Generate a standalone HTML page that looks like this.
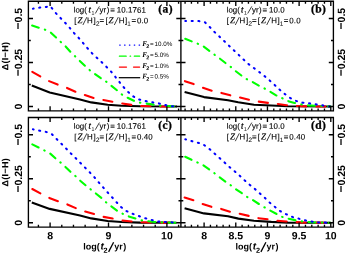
<!DOCTYPE html>
<html><head><meta charset="utf-8"><title>chart</title>
<style>html,body{margin:0;padding:0;background:#fff;overflow:hidden}svg{display:block}text{font-family:"Liberation Sans",sans-serif;fill:#000}.b{font-weight:bold;font-size:10.5px}.s{font-size:7.9px;stroke:#000;stroke-width:0.12px}.b9{font-weight:bold;font-size:9px}.sub{font-size:6.3px}svg{will-change:transform}text{text-rendering:geometricPrecision}.l{font-size:6.3px}text.tg{font-family:"Liberation Serif",serif;font-weight:bold;font-size:11.5px;stroke:#000;stroke-width:0.3px}.it{font-family:"Liberation Serif",serif;font-style:italic}</style>
</head><body>
<svg width="346" height="254" viewBox="0 0 346 254">
<rect width="346" height="254" fill="#fff"/>
<path d="M31.8,85.6 L49.7,92.4 L80.0,99.5 L91.3,102.4 L107.7,104.7 L121.6,105.7 L140.0,106.3 L177.0,106.5" fill="none" stroke-linejoin="round" stroke="#000" stroke-width="2.1" stroke-linecap="butt"/>
<path d="M32.3,71.8 L41.0,76.8 L48.8,81.0 L58.5,84.9 L66.5,87.7 L76.2,92.1 L84.3,94.9 L94.2,98.1 L102.2,99.8 L112.6,101.7 L121.2,103.3 L131.7,104.9 L140.6,106.0 L151.0,106.3 L158.8,106.5 L177.0,106.5" fill="none" stroke-linejoin="round" stroke="#ff0000" stroke-width="2.1" stroke-linecap="round" stroke-dasharray="9.2 10"/>
<path d="M32.1,25.6 L40.1,28.2 L45.3,29.8 L50.2,32.0 L56.8,38.1 L60.9,42.1 L65.3,46.1 L70.8,52.2 L75.1,56.3 L79.8,60.9 L85.2,66.0 L89.9,70.3 L94.7,73.8 L101.0,78.2 L106.3,81.7 L111.2,85.6 L117.3,90.5 L121.6,94.3 L126.4,97.2 L133.3,100.5 L137.2,102.4 L139.7,102.6 L144.9,103.4 L153.6,104.6 L159.7,105.6 L165.7,106.0 L177.0,106.5" fill="none" stroke-linejoin="round" stroke="#00ff00" stroke-width="2.1" stroke-linecap="round" stroke-dasharray="7 6.35 0.5 6.35"/>
<path d="M32.9,8.7 L39.6,7.6 L46.5,6.9 L50.1,6.1 L51.4,7.6 L55.7,13.0 L60.4,17.9 L64.9,22.5 L69.6,27.7 L73.9,32.9 L78.6,37.8 L82.9,42.8 L87.3,48.0 L91.8,53.0 L96.8,57.7 L101.7,62.2 L106.5,66.9 L111.2,71.7 L115.5,77.1 L119.5,82.1 L123.7,87.3 L128.2,92.0 L133.4,96.5 L139.0,99.5 L145.5,101.1 L152.2,102.2 L158.8,103.4 L165.2,105.1 L171.8,106.3 L177.0,106.5" fill="none" stroke-linejoin="round" stroke="#0000ff" stroke-width="2.05" stroke-linecap="round" stroke-dasharray="1.1 5.6" stroke-dashoffset="0.35"/>
<path d="M184.6,91.9 L204.0,97.1 L228.0,100.3 L238.2,102.3 L254.0,104.7 L271.3,105.5 L288.0,106.3 L330.5,106.5" fill="none" stroke-linejoin="round" stroke="#000" stroke-width="2.1" stroke-linecap="butt"/>
<path d="M184.9,81.2 L194.5,84.4 L202.3,87.5 L212.7,91.0 L220.5,92.7 L230.8,95.5 L239.3,97.4 L249.1,99.8 L257.8,101.5 L268.2,102.9 L276.9,103.8 L286.6,105.2 L295.0,105.9 L305.7,106.4 L330.5,106.5" fill="none" stroke-linejoin="round" stroke="#ff0000" stroke-width="2.1" stroke-linecap="round" stroke-dasharray="9.2 10"/>
<path d="M185.2,38.8 L192.7,41.8 L198.4,44.0 L203.4,46.4 L210.1,51.5 L214.7,54.9 L219.6,58.4 L226.2,63.6 L230.8,66.9 L235.0,70.6 L241.5,75.6 L246.2,78.9 L251.4,81.3 L258.8,85.6 L264.0,88.2 L269.6,91.3 L275.7,95.1 L281.6,97.9 L286.7,100.7 L294.5,102.9 L300.5,104.3 L305.7,105.2 L314.7,105.7 L321.3,106.0 L330.5,106.5" fill="none" stroke-linejoin="round" stroke="#00ff00" stroke-width="2.1" stroke-linecap="round" stroke-dasharray="7 6.35 0.5 6.35"/>
<path d="M185.3,20.9 L192.2,20.9 L199.1,21.1 L204.9,22.3 L209.7,27.0 L214.4,31.9 L219.4,36.5 L224.1,41.0 L229.0,45.7 L233.8,50.3 L238.7,54.9 L243.6,59.6 L248.5,64.1 L253.7,67.9 L259.2,72.0 L264.5,76.1 L269.6,80.4 L274.4,84.7 L279.2,89.3 L284.4,93.7 L289.8,97.7 L295.3,100.7 L301.9,102.6 L308.8,103.3 L315.3,104.3 L322.2,105.2 L328.3,106.4 L330.5,106.5" fill="none" stroke-linejoin="round" stroke="#0000ff" stroke-width="2.05" stroke-linecap="round" stroke-dasharray="1.1 5.6" stroke-dashoffset="0.35"/>
<path d="M31.8,202.5 L49.7,208.9 L80.0,215.5 L91.3,218.4 L107.7,221.0 L121.6,222.0 L140.0,222.6 L176.5,222.7" fill="none" stroke-linejoin="round" stroke="#000" stroke-width="2.1" stroke-linecap="butt"/>
<path d="M32.3,189.0 L41.0,193.7 L48.8,197.7 L58.8,201.5 L66.5,204.1 L76.5,208.4 L84.3,211.3 L94.7,214.2 L102.5,216.7 L112.9,218.6 L121.2,220.3 L132.0,221.5 L140.6,222.2 L151.0,222.5 L176.5,222.7" fill="none" stroke-linejoin="round" stroke="#ff0000" stroke-width="2.1" stroke-linecap="round" stroke-dasharray="9.2 10"/>
<path d="M32.3,144.4 L39.8,148.1 L44.9,150.7 L49.7,153.1 L55.9,158.8 L60.9,162.8 L65.3,166.8 L71.0,172.3 L75.7,176.3 L80.0,180.5 L86.1,185.7 L90.7,189.4 L95.6,193.3 L101.7,198.1 L106.3,202.5 L111.2,206.3 L117.3,210.8 L122.5,213.7 L127.7,216.1 L135.4,218.5 L141.5,220.3 L146.7,221.1 L154.5,222.0 L160.5,222.3 L165.7,222.6 L176.5,222.7" fill="none" stroke-linejoin="round" stroke="#00ff00" stroke-width="2.1" stroke-linecap="round" stroke-dasharray="7 6.35 0.5 6.35"/>
<path d="M32.9,129.3 L39.6,130.7 L46.2,131.9 L51.9,134.2 L56.6,139.1 L61.3,143.7 L66.1,148.5 L70.8,153.4 L75.5,158.0 L80.2,162.8 L85.0,167.6 L89.9,172.5 L94.4,177.3 L98.7,182.3 L103.1,187.3 L107.7,192.5 L112.1,197.3 L116.4,202.1 L121.1,207.1 L126.4,211.1 L132.4,213.7 L138.7,216.0 L144.9,218.2 L151.3,219.9 L157.9,221.5 L164.5,222.0 L170.9,222.3 L176.5,222.7" fill="none" stroke-linejoin="round" stroke="#0000ff" stroke-width="2.05" stroke-linecap="round" stroke-dasharray="1.1 5.6" stroke-dashoffset="0.35"/>
<path d="M184.6,208.2 L204.0,213.4 L228.0,216.3 L238.4,218.6 L254.0,220.7 L271.3,221.9 L288.0,222.6 L330.5,222.7" fill="none" stroke-linejoin="round" stroke="#000" stroke-width="2.1" stroke-linecap="butt"/>
<path d="M184.6,197.5 L194.5,200.6 L202.3,203.9 L212.7,207.3 L220.5,208.7 L230.8,211.9 L239.3,213.7 L249.1,216.0 L257.8,218.1 L268.2,219.3 L276.9,220.7 L286.9,221.5 L295.0,222.1 L305.7,222.6 L330.5,222.7" fill="none" stroke-linejoin="round" stroke="#ff0000" stroke-width="2.1" stroke-linecap="round" stroke-dasharray="9.2 10"/>
<path d="M185.2,156.8 L192.1,160.1 L197.7,162.6 L203.1,165.2 L209.5,169.7 L214.4,173.2 L219.2,177.0 L225.7,181.8 L230.3,185.0 L235.1,188.6 L241.9,193.2 L246.7,196.7 L251.9,199.5 L259.2,204.2 L264.4,207.3 L269.6,210.3 L276.2,213.7 L281.6,216.7 L286.5,218.4 L295.0,220.1 L300.5,221.2 L305.7,221.9 L314.7,222.4 L321.3,222.6 L330.5,222.7" fill="none" stroke-linejoin="round" stroke="#00ff00" stroke-width="2.1" stroke-linecap="round" stroke-dasharray="7 6.35 0.5 6.35"/>
<path d="M185.3,139.2 L192.2,141.3 L198.8,143.0 L204.5,145.3 L209.7,149.2 L214.7,153.7 L219.6,158.1 L224.8,162.7 L229.6,167.1 L234.8,171.4 L239.8,175.8 L244.8,180.5 L249.7,184.8 L254.9,189.0 L259.9,193.5 L264.7,197.8 L269.6,202.5 L274.8,206.8 L280.0,211.0 L285.7,214.0 L291.9,216.8 L298.5,218.6 L304.9,220.3 L311.4,221.5 L318.2,222.4 L324.8,222.6 L330.5,222.7" fill="none" stroke-linejoin="round" stroke="#0000ff" stroke-width="2.05" stroke-linecap="round" stroke-dasharray="1.1 5.6" stroke-dashoffset="0.35"/>
<path d="M28.40,1.30L333.40,1.30M28.40,110.90L333.40,110.90M28.40,0.62L28.40,111.58M180.90,0.62L180.90,111.58M333.40,0.62L333.40,111.58M38.42,1.30L38.42,3.70M38.42,110.90L38.42,108.50M50.10,1.30L50.10,5.90M50.10,110.90L50.10,106.30M61.78,1.30L61.78,3.70M61.78,110.90L61.78,108.50M73.46,1.30L73.46,3.70M73.46,110.90L73.46,108.50M85.14,1.30L85.14,3.70M85.14,110.90L85.14,108.50M96.82,1.30L96.82,3.70M96.82,110.90L96.82,108.50M108.50,1.30L108.50,5.90M108.50,110.90L108.50,106.30M120.18,1.30L120.18,3.70M120.18,110.90L120.18,108.50M131.86,1.30L131.86,3.70M131.86,110.90L131.86,108.50M143.54,1.30L143.54,3.70M143.54,110.90L143.54,108.50M155.22,1.30L155.22,3.70M155.22,110.90L155.22,108.50M166.90,1.30L166.90,5.90M166.90,110.90L166.90,106.30M178.58,1.30L178.58,3.70M178.58,110.90L178.58,108.50M185.09,1.30L185.09,3.70M185.09,110.90L185.09,108.50M191.43,1.30L191.43,3.70M191.43,110.90L191.43,108.50M197.77,1.30L197.77,3.70M197.77,110.90L197.77,108.50M204.10,1.30L204.10,5.90M204.10,110.90L204.10,106.30M210.43,1.30L210.43,3.70M210.43,110.90L210.43,108.50M216.77,1.30L216.77,3.70M216.77,110.90L216.77,108.50M223.11,1.30L223.11,3.70M223.11,110.90L223.11,108.50M229.44,1.30L229.44,3.70M229.44,110.90L229.44,108.50M235.78,1.30L235.78,5.90M235.78,110.90L235.78,106.30M242.11,1.30L242.11,3.70M242.11,110.90L242.11,108.50M248.44,1.30L248.44,3.70M248.44,110.90L248.44,108.50M254.78,1.30L254.78,3.70M254.78,110.90L254.78,108.50M261.12,1.30L261.12,3.70M261.12,110.90L261.12,108.50M267.45,1.30L267.45,5.90M267.45,110.90L267.45,106.30M273.78,1.30L273.78,3.70M273.78,110.90L273.78,108.50M280.12,1.30L280.12,3.70M280.12,110.90L280.12,108.50M286.46,1.30L286.46,3.70M286.46,110.90L286.46,108.50M292.79,1.30L292.79,3.70M292.79,110.90L292.79,108.50M299.12,1.30L299.12,5.90M299.12,110.90L299.12,106.30M305.46,1.30L305.46,3.70M305.46,110.90L305.46,108.50M311.79,1.30L311.79,3.70M311.79,110.90L311.79,108.50M318.13,1.30L318.13,3.70M318.13,110.90L318.13,108.50M324.47,1.30L324.47,3.70M324.47,110.90L324.47,108.50M330.80,1.30L330.80,5.90M330.80,110.90L330.80,106.30M28.40,106.50L33.00,106.50M176.30,106.50L185.50,106.50M328.80,106.50L333.40,106.50M28.40,84.50L30.80,84.50M178.50,84.50L183.30,84.50M331.00,84.50L333.40,84.50M28.40,62.50L33.00,62.50M176.30,62.50L185.50,62.50M328.80,62.50L333.40,62.50M28.40,40.50L30.80,40.50M178.50,40.50L183.30,40.50M331.00,40.50L333.40,40.50M28.40,18.50L33.00,18.50M176.30,18.50L185.50,18.50M328.80,18.50L333.40,18.50M28.40,117.50L333.40,117.50M28.40,227.10L333.40,227.10M28.40,116.83L28.40,227.78M180.90,116.83L180.90,227.78M333.40,116.83L333.40,227.78M38.42,117.50L38.42,119.90M38.42,227.10L38.42,224.70M50.10,117.50L50.10,122.10M50.10,227.10L50.10,222.50M61.78,117.50L61.78,119.90M61.78,227.10L61.78,224.70M73.46,117.50L73.46,119.90M73.46,227.10L73.46,224.70M85.14,117.50L85.14,119.90M85.14,227.10L85.14,224.70M96.82,117.50L96.82,119.90M96.82,227.10L96.82,224.70M108.50,117.50L108.50,122.10M108.50,227.10L108.50,222.50M120.18,117.50L120.18,119.90M120.18,227.10L120.18,224.70M131.86,117.50L131.86,119.90M131.86,227.10L131.86,224.70M143.54,117.50L143.54,119.90M143.54,227.10L143.54,224.70M155.22,117.50L155.22,119.90M155.22,227.10L155.22,224.70M166.90,117.50L166.90,122.10M166.90,227.10L166.90,222.50M178.58,117.50L178.58,119.90M178.58,227.10L178.58,224.70M185.09,117.50L185.09,119.90M185.09,227.10L185.09,224.70M191.43,117.50L191.43,119.90M191.43,227.10L191.43,224.70M197.77,117.50L197.77,119.90M197.77,227.10L197.77,224.70M204.10,117.50L204.10,122.10M204.10,227.10L204.10,222.50M210.43,117.50L210.43,119.90M210.43,227.10L210.43,224.70M216.77,117.50L216.77,119.90M216.77,227.10L216.77,224.70M223.11,117.50L223.11,119.90M223.11,227.10L223.11,224.70M229.44,117.50L229.44,119.90M229.44,227.10L229.44,224.70M235.78,117.50L235.78,122.10M235.78,227.10L235.78,222.50M242.11,117.50L242.11,119.90M242.11,227.10L242.11,224.70M248.44,117.50L248.44,119.90M248.44,227.10L248.44,224.70M254.78,117.50L254.78,119.90M254.78,227.10L254.78,224.70M261.12,117.50L261.12,119.90M261.12,227.10L261.12,224.70M267.45,117.50L267.45,122.10M267.45,227.10L267.45,222.50M273.78,117.50L273.78,119.90M273.78,227.10L273.78,224.70M280.12,117.50L280.12,119.90M280.12,227.10L280.12,224.70M286.46,117.50L286.46,119.90M286.46,227.10L286.46,224.70M292.79,117.50L292.79,119.90M292.79,227.10L292.79,224.70M299.12,117.50L299.12,122.10M299.12,227.10L299.12,222.50M305.46,117.50L305.46,119.90M305.46,227.10L305.46,224.70M311.79,117.50L311.79,119.90M311.79,227.10L311.79,224.70M318.13,117.50L318.13,119.90M318.13,227.10L318.13,224.70M324.47,117.50L324.47,119.90M324.47,227.10L324.47,224.70M330.80,117.50L330.80,122.10M330.80,227.10L330.80,222.50M28.40,222.70L33.00,222.70M176.30,222.70L185.50,222.70M328.80,222.70L333.40,222.70M28.40,200.70L30.80,200.70M178.50,200.70L183.30,200.70M331.00,200.70L333.40,200.70M28.40,178.70L33.00,178.70M176.30,178.70L185.50,178.70M328.80,178.70L333.40,178.70M28.40,156.70L30.80,156.70M178.50,156.70L183.30,156.70M331.00,156.70L333.40,156.70M28.40,134.70L33.00,134.70M176.30,134.70L185.50,134.70M328.80,134.70L333.40,134.70" stroke="#000" stroke-width="1.35" fill="none"/>
<text class="b" transform="rotate(0.03 50.10 239.20)" x="50.10" y="239.20" text-anchor="middle">8</text>
<text class="b" transform="rotate(0.03 108.50 239.20)" x="108.50" y="239.20" text-anchor="middle">9</text>
<text class="b" transform="rotate(0.03 166.90 239.20)" x="166.90" y="239.20" text-anchor="middle">10</text>
<text class="b" transform="rotate(0.03 204.10 239.20)" x="204.10" y="239.20" text-anchor="middle">8</text>
<text class="b" transform="rotate(0.03 235.78 239.20)" x="235.78" y="239.20" text-anchor="middle">8.5</text>
<text class="b" transform="rotate(0.03 267.45 239.20)" x="267.45" y="239.20" text-anchor="middle">9</text>
<text class="b" transform="rotate(0.03 299.12 239.20)" x="299.12" y="239.20" text-anchor="middle">9.5</text>
<text class="b" transform="rotate(0.03 330.80 239.20)" x="330.80" y="239.20" text-anchor="middle">10</text>
<text class="b" transform="rotate(-90.03 22.10 18.60)" x="22.10" y="18.60" text-anchor="middle"><tspan font-size="12px">−</tspan>0.5</text>
<text class="b" transform="rotate(-90.03 345.10 18.60)" x="345.10" y="18.60" text-anchor="middle"><tspan font-size="12px">−</tspan>0.5</text>
<text class="b" transform="rotate(-90.03 22.10 62.60)" x="22.10" y="62.60" text-anchor="middle"><tspan font-size="12px">−</tspan>0.25</text>
<text class="b" transform="rotate(-90.03 345.10 62.60)" x="345.10" y="62.60" text-anchor="middle"><tspan font-size="12px">−</tspan>0.25</text>
<text class="b" transform="rotate(-90.03 22.10 106.60)" x="22.10" y="106.60" text-anchor="middle">0</text>
<text class="b" transform="rotate(-90.03 345.10 106.60)" x="345.10" y="106.60" text-anchor="middle">0</text>
<text class="b9" transform="rotate(-90.03 8.20 56.00)" x="8.20" y="56.00" text-anchor="middle" letter-spacing="0.3">Δ(I−H)</text>
<text class="b" transform="rotate(-90.03 22.10 134.80)" x="22.10" y="134.80" text-anchor="middle"><tspan font-size="12px">−</tspan>0.5</text>
<text class="b" transform="rotate(-90.03 345.10 134.80)" x="345.10" y="134.80" text-anchor="middle"><tspan font-size="12px">−</tspan>0.5</text>
<text class="b" transform="rotate(-90.03 22.10 178.80)" x="22.10" y="178.80" text-anchor="middle"><tspan font-size="12px">−</tspan>0.25</text>
<text class="b" transform="rotate(-90.03 345.10 178.80)" x="345.10" y="178.80" text-anchor="middle"><tspan font-size="12px">−</tspan>0.25</text>
<text class="b" transform="rotate(-90.03 22.10 222.80)" x="22.10" y="222.80" text-anchor="middle">0</text>
<text class="b" transform="rotate(-90.03 345.10 222.80)" x="345.10" y="222.80" text-anchor="middle">0</text>
<text class="b9" transform="rotate(-90.03 8.20 172.20)" x="8.20" y="172.20" text-anchor="middle" letter-spacing="0.3">Δ(I−H)</text>
<text class="b9" transform="rotate(0.03 83.30 249.40)" x="83.30" y="249.40" >log(<tspan x="100.4" font-style="italic" font-size="10px">t</tspan><tspan x="103.6" dy="3.3" font-size="7.3px">2</tspan><tspan x="114.3" dy="-3.3">yr</tspan><tspan x="123.3">)</tspan></text>
<path d="M108.6,251.9L113.6,242.3" stroke="#000" stroke-width="1.3" fill="none"/>
<text class="b9" transform="rotate(0.03 235.60 249.40)" x="235.60" y="249.40" >log(<tspan x="252.7" font-style="italic" font-size="10px">t</tspan><tspan x="255.9" dy="3.3" font-size="7.3px">2</tspan><tspan x="266.6" dy="-3.3">yr</tspan><tspan x="275.6">)</tspan></text>
<path d="M260.9,251.9L265.9,242.3" stroke="#000" stroke-width="1.3" fill="none"/>
<text class="s" transform="rotate(0.03 73.70 12.60)" x="73.70" y="12.60" >log(<tspan font-style="italic" font-size="8.2px" stroke-width="0.25" x="88.6">t</tspan><tspan font-size="5.2px" stroke="none" x="91.6" dy="1.9">1</tspan><tspan x="99.6" dy="-1.9">y</tspan><tspan x="103.6">r</tspan><tspan x="106.7">)</tspan><tspan x="110.2">=</tspan><tspan x="116.7" letter-spacing="0.1">10.1761</tspan></text>
<path d="M95.3,13.5L99.4,6.4" stroke="#000" stroke-width="0.75" fill="none"/>
<text class="s" transform="rotate(0.03 74.30 23.30)" x="74.30" y="23.30" >[<tspan class="it" font-size="9px" x="77.5">Z</tspan><tspan x="87.1">H</tspan><tspan x="93.5">]</tspan><tspan class="sub" x="96.0" dy="2.5">2</tspan><tspan x="99.6" dy="-2.5">=</tspan><tspan x="105.4">[</tspan><tspan class="it" font-size="9px" x="108.5">Z</tspan><tspan x="118.8">H</tspan><tspan x="125.0">]</tspan><tspan class="sub" stroke="none" x="127.3" dy="2.4">1</tspan><tspan x="131.4" dy="-2.4">=</tspan><tspan x="136.9" letter-spacing="0.15">0.0</tspan></text>
<path d="M82.9,25.0L86.9,17.1" stroke="#000" stroke-width="0.75" fill="none"/>
<path d="M114.3,25.0L118.3,17.1" stroke="#000" stroke-width="0.75" fill="none"/>
<text class="tg" transform="rotate(0.03 158.20 12.60)" x="158.20" y="12.60" letter-spacing="0.45">(a)</text>
<text class="s" transform="rotate(0.03 226.70 12.60)" x="226.70" y="12.60" >log(<tspan font-style="italic" font-size="8.2px" stroke-width="0.25" x="241.0">t</tspan><tspan font-size="5.2px" stroke="none" x="244.0" dy="1.9">1</tspan><tspan x="252.0" dy="-1.9">y</tspan><tspan x="256.0">r</tspan><tspan x="259.1">)</tspan><tspan x="262.6">=</tspan><tspan x="269.1" letter-spacing="0.1">10.0</tspan></text>
<path d="M247.7,13.5L251.8,6.4" stroke="#000" stroke-width="0.75" fill="none"/>
<text class="s" transform="rotate(0.03 226.70 23.30)" x="226.70" y="23.30" >[<tspan class="it" font-size="9px" x="229.9">Z</tspan><tspan x="239.5">H</tspan><tspan x="245.9">]</tspan><tspan class="sub" x="248.4" dy="2.5">2</tspan><tspan x="252.0" dy="-2.5">=</tspan><tspan x="257.8">[</tspan><tspan class="it" font-size="9px" x="260.9">Z</tspan><tspan x="271.2">H</tspan><tspan x="277.4">]</tspan><tspan class="sub" stroke="none" x="279.7" dy="2.4">1</tspan><tspan x="283.8" dy="-2.4">=</tspan><tspan x="289.3" letter-spacing="0.15">0.0</tspan></text>
<path d="M235.3,25.0L239.3,17.1" stroke="#000" stroke-width="0.75" fill="none"/>
<path d="M266.7,25.0L270.7,17.1" stroke="#000" stroke-width="0.75" fill="none"/>
<text class="tg" transform="rotate(0.03 310.90 12.60)" x="310.90" y="12.60" letter-spacing="0.45">(b)</text>
<text class="s" transform="rotate(0.03 73.70 128.80)" x="73.70" y="128.80" >log(<tspan font-style="italic" font-size="8.2px" stroke-width="0.25" x="88.6">t</tspan><tspan font-size="5.2px" stroke="none" x="91.6" dy="1.9">1</tspan><tspan x="99.6" dy="-1.9">y</tspan><tspan x="103.6">r</tspan><tspan x="106.7">)</tspan><tspan x="110.2">=</tspan><tspan x="116.7" letter-spacing="0.1">10.1761</tspan></text>
<path d="M95.3,129.7L99.4,122.6" stroke="#000" stroke-width="0.75" fill="none"/>
<text class="s" transform="rotate(0.03 74.30 139.50)" x="74.30" y="139.50" >[<tspan class="it" font-size="9px" x="77.5">Z</tspan><tspan x="87.1">H</tspan><tspan x="93.5">]</tspan><tspan class="sub" x="96.0" dy="2.5">2</tspan><tspan x="99.6" dy="-2.5">=</tspan><tspan x="105.4">[</tspan><tspan class="it" font-size="9px" x="108.5">Z</tspan><tspan x="118.8">H</tspan><tspan x="125.0">]</tspan><tspan class="sub" stroke="none" x="127.3" dy="2.4">1</tspan><tspan x="131.4" dy="-2.4">=</tspan><tspan x="136.9" letter-spacing="0.15">0.40</tspan></text>
<path d="M82.9,141.2L86.9,133.3" stroke="#000" stroke-width="0.75" fill="none"/>
<path d="M114.3,141.2L118.3,133.3" stroke="#000" stroke-width="0.75" fill="none"/>
<text class="tg" transform="rotate(0.03 158.20 128.80)" x="158.20" y="128.80" letter-spacing="0.45">(c)</text>
<text class="s" transform="rotate(0.03 226.70 128.80)" x="226.70" y="128.80" >log(<tspan font-style="italic" font-size="8.2px" stroke-width="0.25" x="241.0">t</tspan><tspan font-size="5.2px" stroke="none" x="244.0" dy="1.9">1</tspan><tspan x="252.0" dy="-1.9">y</tspan><tspan x="256.0">r</tspan><tspan x="259.1">)</tspan><tspan x="262.6">=</tspan><tspan x="269.1" letter-spacing="0.1">10.0</tspan></text>
<path d="M247.7,129.7L251.8,122.6" stroke="#000" stroke-width="0.75" fill="none"/>
<text class="s" transform="rotate(0.03 226.70 139.50)" x="226.70" y="139.50" >[<tspan class="it" font-size="9px" x="229.9">Z</tspan><tspan x="239.5">H</tspan><tspan x="245.9">]</tspan><tspan class="sub" x="248.4" dy="2.5">2</tspan><tspan x="252.0" dy="-2.5">=</tspan><tspan x="257.8">[</tspan><tspan class="it" font-size="9px" x="260.9">Z</tspan><tspan x="271.2">H</tspan><tspan x="277.4">]</tspan><tspan class="sub" stroke="none" x="279.7" dy="2.4">1</tspan><tspan x="283.8" dy="-2.4">=</tspan><tspan x="289.3" letter-spacing="0.15">0.40</tspan></text>
<path d="M235.3,141.2L239.3,133.3" stroke="#000" stroke-width="0.75" fill="none"/>
<path d="M266.7,141.2L270.7,133.3" stroke="#000" stroke-width="0.75" fill="none"/>
<text class="tg" transform="rotate(0.03 310.90 128.80)" x="310.90" y="128.80" letter-spacing="0.45">(d)</text>
<path d="M119.7,45.1H141" fill="none" stroke="#0000ff" stroke-width="1.25" stroke-linecap="round" stroke-dasharray="0.5 4.35"/>
<path d="M119.4,56.2H126.2 M130.1,56.2h0.5 M134.3,56.2H139.6" fill="none" stroke="#00ff00" stroke-width="1.25" stroke-linecap="round"/>
<path d="M119.4,67.1H126.5 M133.5,67.1H139.6" fill="none" stroke="#ff0000" stroke-width="1.25" stroke-linecap="round"/>
<path d="M118.8,77.7H140.2" fill="none" stroke="#000" stroke-width="1.25"/>
<text class="l" transform="rotate(0.03 142.30 45.90)" x="142.30" y="45.90" ><tspan class="it" font-weight="bold" font-size="7.2px">F</tspan><tspan font-size="5.4px" font-weight="bold" dy="2.2" x="146.2">2</tspan><tspan dy="-2.2" x="150.0">=</tspan><tspan x="154.4">10.0%</tspan></text>
<text class="l" transform="rotate(0.03 142.30 57.00)" x="142.30" y="57.00" ><tspan class="it" font-weight="bold" font-size="7.2px">F</tspan><tspan font-size="5.4px" font-weight="bold" dy="2.2" x="146.2">2</tspan><tspan dy="-2.2" x="150.0">=</tspan><tspan x="154.4">5.0%</tspan></text>
<text class="l" transform="rotate(0.03 142.30 67.90)" x="142.30" y="67.90" ><tspan class="it" font-weight="bold" font-size="7.2px">F</tspan><tspan font-size="5.4px" font-weight="bold" dy="2.2" x="146.2">2</tspan><tspan dy="-2.2" x="150.0">=</tspan><tspan x="154.4">1.0%</tspan></text>
<text class="l" transform="rotate(0.03 142.30 78.50)" x="142.30" y="78.50" ><tspan class="it" font-weight="bold" font-size="7.2px">F</tspan><tspan font-size="5.4px" font-weight="bold" dy="2.2" x="146.2">2</tspan><tspan dy="-2.2" x="150.0">=</tspan><tspan x="154.4">0.5%</tspan></text>
</svg></body></html>
